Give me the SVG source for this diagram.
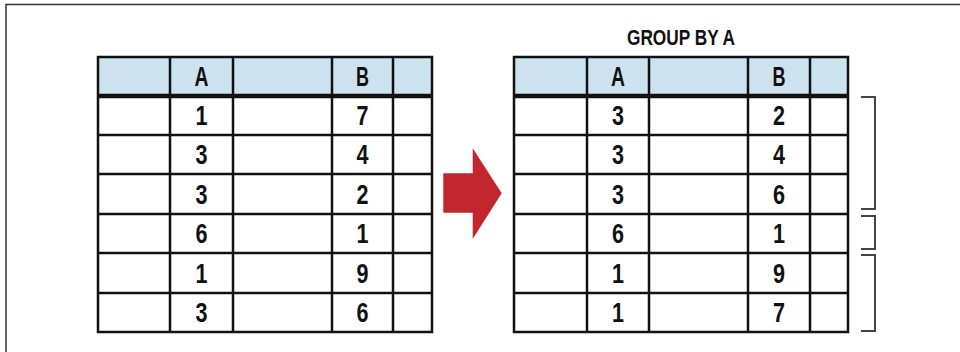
<svg xmlns="http://www.w3.org/2000/svg" width="960" height="352" viewBox="0 0 960 352">
<style>
.t{font-family:"Liberation Sans",Arial,sans-serif;font-weight:bold;font-size:28px;fill:#111;text-anchor:middle}
.h{fill:#cce2ef}
.g{fill:none;stroke:#111;stroke-width:2.5}
.hb{stroke:#111;stroke-width:4.5}
.br{fill:none;stroke:#444;stroke-width:2}
</style>
<rect width="960" height="352" fill="#fff"/>
<path d="M6,352 V4.5 H960" fill="none" stroke="#333" stroke-width="1.5"/>

<g id="table-left">
<rect class="h" x="98" y="57" width="334" height="39"/>
<path class="g" d="M98,57 H432 V332 H98 Z M98,135 H432 M98,174 H432 M98,214 H432 M98,253 H432 M98,293 H432 M170,57 V332 M233,57 V332 M332,57 V332 M393,57 V332"/>
<line class="hb" x1="98" y1="96" x2="432" y2="96"/>
<text class="t" x="201.5" y="86" textLength="14" lengthAdjust="spacingAndGlyphs">A</text><text class="t" x="362.5" y="86" textLength="13" lengthAdjust="spacingAndGlyphs">B</text>
<text class="t" x="201.5" y="125" textLength="12" lengthAdjust="spacingAndGlyphs">1</text><text class="t" x="362.5" y="125" textLength="12" lengthAdjust="spacingAndGlyphs">7</text>
<text class="t" x="201.5" y="164" textLength="12" lengthAdjust="spacingAndGlyphs">3</text><text class="t" x="362.5" y="164" textLength="12" lengthAdjust="spacingAndGlyphs">4</text>
<text class="t" x="201.5" y="204" textLength="12" lengthAdjust="spacingAndGlyphs">3</text><text class="t" x="362.5" y="204" textLength="12" lengthAdjust="spacingAndGlyphs">2</text>
<text class="t" x="201.5" y="243" textLength="12" lengthAdjust="spacingAndGlyphs">6</text><text class="t" x="362.5" y="243" textLength="12" lengthAdjust="spacingAndGlyphs">1</text>
<text class="t" x="201.5" y="283" textLength="12" lengthAdjust="spacingAndGlyphs">1</text><text class="t" x="362.5" y="283" textLength="12" lengthAdjust="spacingAndGlyphs">9</text>
<text class="t" x="201.5" y="322" textLength="12" lengthAdjust="spacingAndGlyphs">3</text><text class="t" x="362.5" y="322" textLength="12" lengthAdjust="spacingAndGlyphs">6</text>
</g>

<g id="arrow">
<path d="M443.3,173.3 H472.7 V148.3 L501.7,193.3 L472.7,239 V212.7 H443.3 Z" fill="#c1272d"/>
</g>

<g id="table-right">
<text class="t" x="681" y="45" style="font-size:22px" textLength="108" lengthAdjust="spacingAndGlyphs">GROUP BY A</text>
<rect class="h" x="514" y="57" width="334" height="39"/>
<path class="g" d="M514,57 H848 V332 H514 Z M514,135 H848 M514,174 H848 M514,214 H848 M514,253 H848 M514,293 H848 M587,57 V332 M649,57 V332 M748,57 V332 M810,57 V332"/>
<line class="hb" x1="514" y1="96" x2="848" y2="96"/>
<text class="t" x="618" y="86" textLength="14" lengthAdjust="spacingAndGlyphs">A</text><text class="t" x="779" y="86" textLength="13" lengthAdjust="spacingAndGlyphs">B</text>
<text class="t" x="618" y="125" textLength="12" lengthAdjust="spacingAndGlyphs">3</text><text class="t" x="779" y="125" textLength="12" lengthAdjust="spacingAndGlyphs">2</text>
<text class="t" x="618" y="164" textLength="12" lengthAdjust="spacingAndGlyphs">3</text><text class="t" x="779" y="164" textLength="12" lengthAdjust="spacingAndGlyphs">4</text>
<text class="t" x="618" y="204" textLength="12" lengthAdjust="spacingAndGlyphs">3</text><text class="t" x="779" y="204" textLength="12" lengthAdjust="spacingAndGlyphs">6</text>
<text class="t" x="618" y="243" textLength="12" lengthAdjust="spacingAndGlyphs">6</text><text class="t" x="779" y="243" textLength="12" lengthAdjust="spacingAndGlyphs">1</text>
<text class="t" x="618" y="283" textLength="12" lengthAdjust="spacingAndGlyphs">1</text><text class="t" x="779" y="283" textLength="12" lengthAdjust="spacingAndGlyphs">9</text>
<text class="t" x="618" y="322" textLength="12" lengthAdjust="spacingAndGlyphs">1</text><text class="t" x="779" y="322" textLength="12" lengthAdjust="spacingAndGlyphs">7</text>
</g>

<g id="brackets">
<path class="br" d="M861,97 H875 V209 H861"/>
<path class="br" d="M861,216 H875 V249 H861"/>
<path class="br" d="M861,255 H875 V331 H861"/>
</g>
</svg>
